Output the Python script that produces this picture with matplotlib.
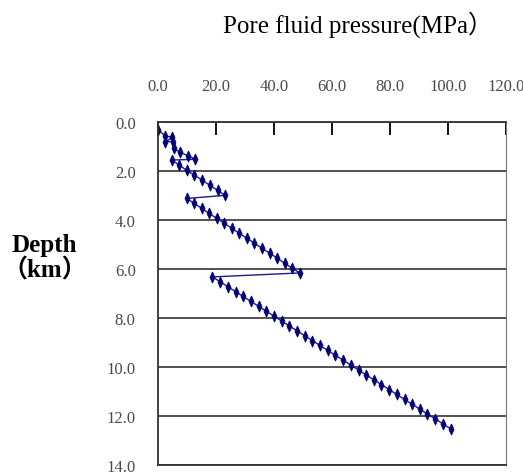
import matplotlib.pyplot as plt

# pore fluid pressure (MPa) vs depth (km)
pressure = [0.0, 2.4, 5.0, 2.6, 5.3, 5.4, 7.6, 10.4, 12.9,
            4.8, 7.4, 9.9, 12.6, 15.2, 17.9, 20.6, 23.2,
            9.9, 12.5, 15.1, 17.7, 20.3, 22.9, 25.5, 28.1, 30.7, 33.3, 35.9, 38.5,
            41.1, 43.7, 46.3, 48.9,
            18.8, 21.5, 24.1, 26.8, 29.4, 32.1, 34.7, 37.4, 40.0, 42.7, 45.3, 48.0,
            50.6, 53.3, 55.9, 58.6, 61.2, 63.9, 66.5, 69.2, 71.8, 74.5, 77.1, 79.8,
            82.4, 85.1, 87.7, 90.4, 93.0, 95.7, 98.3, 101.0]
depth = [0.31, 0.56, 0.63, 0.80, 0.80, 1.07, 1.24, 1.37, 1.52,
         1.55, 1.76, 1.97, 2.17, 2.37, 2.58, 2.79, 2.99,
         3.12, 3.32, 3.52, 3.73, 3.93, 4.13, 4.34, 4.54, 4.74, 4.95, 5.15, 5.35,
         5.55, 5.76, 5.96, 6.16,
         6.32, 6.52, 6.72, 6.92, 7.12, 7.32, 7.52, 7.72, 7.92, 8.12, 8.32, 8.52,
         8.72, 8.92, 9.12, 9.32, 9.52, 9.72, 9.92, 10.12, 10.32, 10.52, 10.72, 10.92,
         11.12, 11.32, 11.52, 11.72, 11.92, 12.12, 12.32, 12.52]

xticks = [0, 20, 40, 60, 80, 100, 120]
yticks = [0, 2, 4, 6, 8, 10, 12, 14]

# tall thin diamond like the excel marker
diamond = [(0, 1), (0.45, 0), (0, -1), (-0.45, 0), (0, 1)]

fig = plt.figure(figsize=(5.23, 4.77), dpi=100)
ax = fig.add_axes([0.302, 0.023, 0.665, 0.719])

ax.plot(pressure, depth, color='#1c1c8c', lw=1.0, marker=diamond, ms=8,
        mfc='#000080', mec='#000080', mew=0.6)

ax.set_xlim(0, 120)
ax.set_ylim(14, 0)
ax.set_xticks(xticks)
ax.set_yticks(yticks)
ax.set_xticklabels(["%.1f" % v for v in xticks])
ax.set_yticklabels(["%.1f" % v for v in yticks])
ax.xaxis.tick_top()
ax.tick_params(axis='x', direction='in', length=9, width=1.3, pad=20,
               labelsize=12, labelcolor='#4a4a4a')
ax.tick_params(axis='y', length=0, pad=16, labelsize=12, labelcolor='#4a4a4a')
for lab in ax.get_xticklabels() + ax.get_yticklabels():
    lab.set_family('Liberation Serif')

ax.grid(True, axis='y', color='#333333', lw=1.2)
for side in ['left', 'top', 'bottom']:
    ax.spines[side].set_color('#333333')
    ax.spines[side].set_linewidth(1.3)
ax.spines['right'].set_color('#777777')

fig.text(0.685, 0.948, 'Pore fluid pressure(MPa）', ha='center', va='center',
         fontsize=18, family=['Liberation Serif', 'Noto Sans CJK SC'])
fig.text(0.085, 0.459, 'Depth\n（km）', ha='center', va='center', fontsize=18,
         fontweight='bold', linespacing=1.1,
         family=['Liberation Serif', 'Noto Sans CJK SC'])

fig.savefig('out.png', dpi=100)
